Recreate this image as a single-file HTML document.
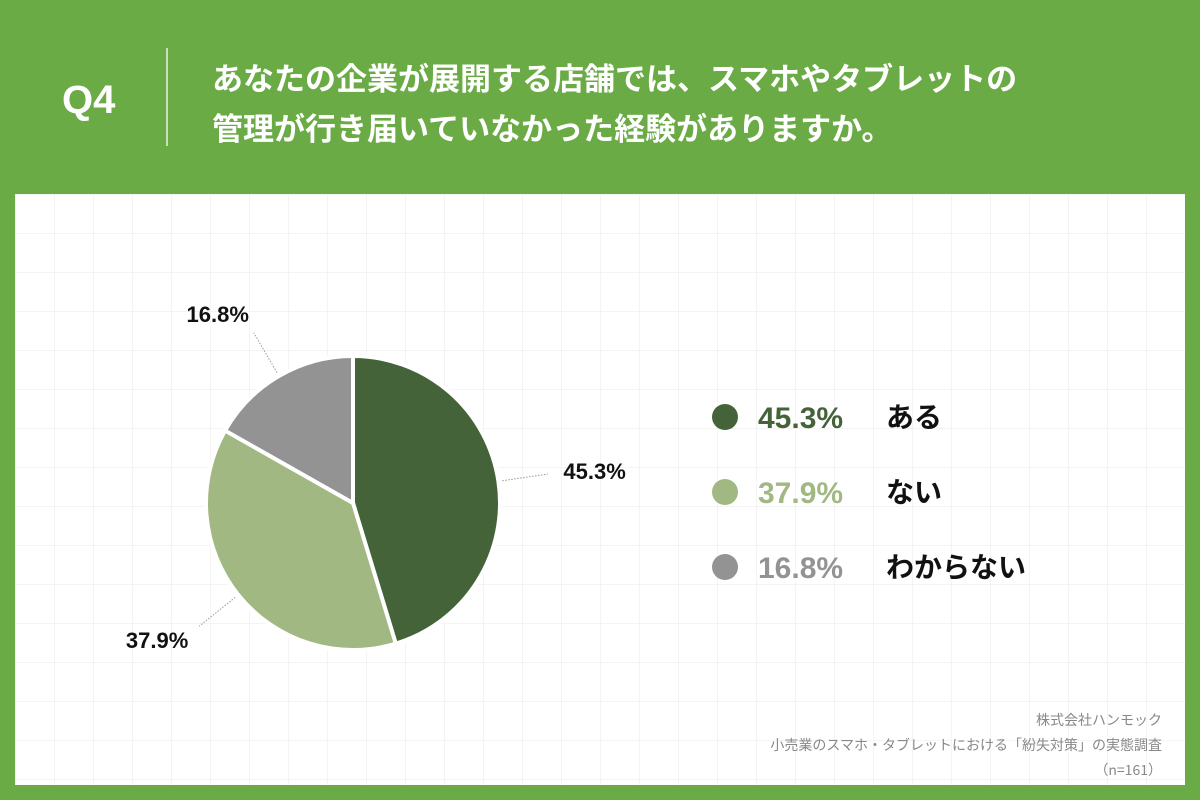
<!DOCTYPE html>
<html><head><meta charset="utf-8">
<style>
body{margin:0;width:1200px;height:800px;background:#6aab46;font-family:"Liberation Sans","Noto Sans CJK JP",sans-serif;position:relative;overflow:hidden}
.q{position:absolute;left:62px;top:78px;color:#fff;font-size:40px;font-weight:bold}
.div{position:absolute;left:166px;top:48px;width:2px;height:98px;background:#c8e0b8}
.title{position:absolute;left:212px;top:52px;color:#fff;font-size:31px;font-weight:bold;line-height:50px;font-family:"Noto Sans CJK JP",sans-serif}
.panel{position:absolute;left:15px;top:194px;width:1170px;height:591px;background:#fff;
background-image:linear-gradient(#f4f4f4 1px,transparent 1px),linear-gradient(90deg,#f4f4f4 1px,transparent 1px);background-size:39px 39px}
.foot{position:absolute;right:38px;top:708px;text-align:right;color:#888;font-size:14px;line-height:25px;font-family:"Noto Sans CJK JP",sans-serif}
</style></head><body>
<div class="q">Q4</div>
<div class="div"></div>
<div class="title">あなたの企業が展開する店舗では、スマホやタブレットの<br>管理が行き届いていなかった経験がありますか。</div>
<div class="panel"></div>
<svg id="c" width="1200" height="800" style="position:absolute;left:0;top:0"></svg>
<div class="foot">株式会社ハンモック<br>小売業のスマホ・タブレットにおける「紛失対策」の実態調査<br>（n=161）</div>
<script>
const categories=["ある","ない","わからない"];
const values=[45.3,37.9,16.8];
const labels=["45.3%","37.9%","16.8%"];
const colors=["#456338","#a1b883","#939393"];
const svg=document.getElementById('c');const NS="http://www.w3.org/2000/svg";
const cx=353,cy=503,r=147;
const total=values.reduce((a,b)=>a+b,0);
let a0=-Math.PI/2;
function pt(a,rr){return [cx+rr*Math.cos(a),cy+rr*Math.sin(a)];}
values.forEach((v,i)=>{
 const a1=a0+v/total*2*Math.PI;
 const p0=pt(a0,r),p1=pt(a1,r);
 const path=document.createElementNS(NS,'path');
 path.setAttribute('d',`M${cx},${cy}L${p0[0]},${p0[1]}A${r},${r} 0 ${a1-a0>Math.PI?1:0} 1 ${p1[0]},${p1[1]}Z`);
 path.setAttribute('fill',colors[i]);path.setAttribute('stroke','#fff');path.setAttribute('stroke-width','4');
 
 
 svg.appendChild(path);
 const am=(a0+a1)/2;const q1=pt(am,r+4),q2=pt(am,r+50),q3=pt(am,r+72);
 const ln=document.createElementNS(NS,'line');
 ln.setAttribute('x1',q1[0]);ln.setAttribute('y1',q1[1]);ln.setAttribute('x2',q2[0]);ln.setAttribute('y2',q2[1]);
 ln.setAttribute('stroke','#999');ln.setAttribute('stroke-dasharray','1.5,1.5');
 
 
 svg.appendChild(ln);
 const t=document.createElementNS(NS,'text');
 t.setAttribute('x',q3[0]+(Math.cos(am)>0?25:-25));t.setAttribute('y',q3[1]+8);t.setAttribute('text-anchor','middle');
 t.setAttribute('font-size','22');t.setAttribute('font-weight','bold');t.setAttribute('fill','#111');
 t.textContent=labels[i];
 
 
 svg.appendChild(t);
 // legend
 const ly=417+i*75;
 const c=document.createElementNS(NS,'circle');
 c.setAttribute('cx',725);c.setAttribute('cy',ly);c.setAttribute('r',13);c.setAttribute('fill',colors[i]);
 
 
 svg.appendChild(c);
 const lt=document.createElementNS(NS,'text');
 lt.setAttribute('x',758);lt.setAttribute('y',ly+11);lt.setAttribute('font-size','30');lt.setAttribute('font-weight','bold');lt.setAttribute('fill',colors[i]);
 lt.textContent=labels[i];
 
 
 svg.appendChild(lt);
 const lc=document.createElementNS(NS,'text');
 lc.setAttribute('x',886);lc.setAttribute('y',ly+10);lc.setAttribute('font-size','28');lc.setAttribute('font-weight','bold');lc.setAttribute('fill','#111');
 lc.setAttribute('font-family','"Noto Sans CJK JP",sans-serif');
 lc.textContent=categories[i];
 
 
 svg.appendChild(lc);
 a0=a1;
});
</script>
</body></html>
